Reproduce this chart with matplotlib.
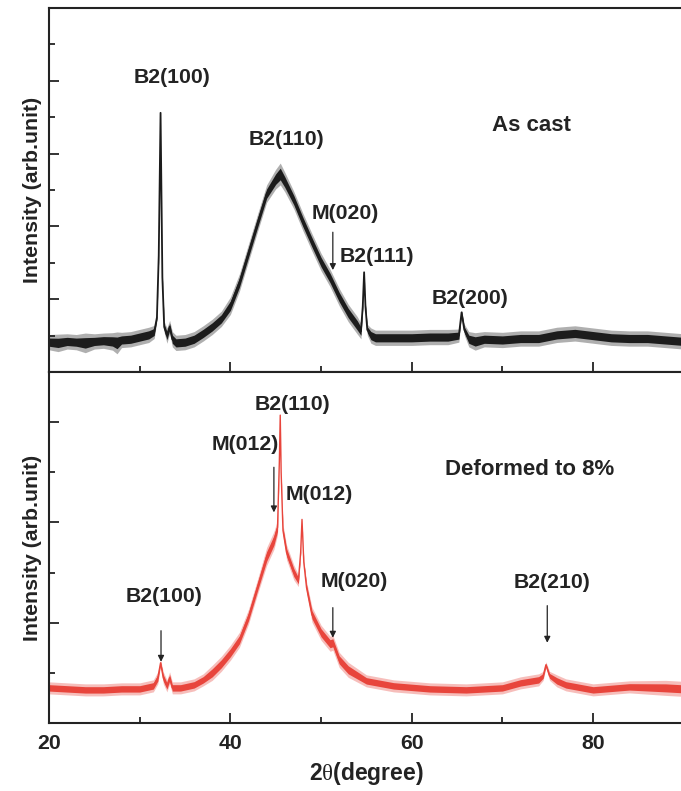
"""XRD patterns: as-cast vs deformed to 8%."""

import matplotlib

matplotlib.use("Agg")
import matplotlib.pyplot as plt
import numpy as np
from matplotlib.ticker import MultipleLocator

plt.rcParams["font.family"] = ["Liberation Sans", "DejaVu Sans"]
plt.rcParams["mathtext.fontset"] = "custom"
plt.rcParams["mathtext.rm"] = "Liberation Serif"

INK = "#232323"
RED = "#e8453c"

# As cast: 2theta, centre of the noisy trace, half-width of the noise band
cast_theta = [20.0, 21.0, 22.0, 23.0, 24.0, 25.0, 26.0, 27.0, 27.5, 28.0,
              29.0, 30.0, 31.0, 31.6, 31.9, 32.1, 32.3, 32.5, 32.7, 33.0,
              33.3, 33.6, 34.0, 35.0, 36.0, 37.0, 38.0, 39.0, 40.0, 41.0,
              42.0, 43.0, 44.0, 45.0, 45.5, 46.0, 47.0, 48.0, 49.0, 50.0,
              51.0, 52.0, 53.0, 54.0, 54.4, 54.6, 54.75, 54.9, 55.1, 55.5,
              56.0, 58.0, 60.0, 62.0, 64.0, 65.2, 65.5, 65.8, 66.3, 67.0,
              68.0, 70.0, 72.0, 74.0, 76.0, 78.0, 80.0, 82.0, 84.0, 86.0,
              88.0, 90.0]
cast_mid = [0.41, 0.40, 0.42, 0.41, 0.40, 0.42, 0.43, 0.42, 0.40, 0.44,
            0.45, 0.48, 0.51, 0.55, 0.75, 1.60, 3.56, 1.30, 0.62, 0.50,
            0.62, 0.45, 0.40, 0.41, 0.45, 0.53, 0.62, 0.73, 0.91, 1.23,
            1.64, 2.05, 2.45, 2.65, 2.72, 2.61, 2.36, 2.06, 1.78, 1.51,
            1.29, 1.03, 0.81, 0.64, 0.56, 0.90, 1.37, 0.90, 0.58, 0.50,
            0.47, 0.47, 0.47, 0.48, 0.48, 0.50, 0.82, 0.58, 0.45, 0.42,
            0.45, 0.44, 0.46, 0.46, 0.51, 0.53, 0.50, 0.47, 0.46, 0.46,
            0.44, 0.42]
cast_band = [0.07, 0.08, 0.07, 0.07, 0.09, 0.07, 0.07, 0.08, 0.10, 0.07,
             0.07, 0.07, 0.07, 0.06, 0.03, 0.02, 0.00, 0.02, 0.05, 0.07,
             0.06, 0.07, 0.07, 0.07, 0.07, 0.07, 0.07, 0.07, 0.08, 0.08,
             0.08, 0.08, 0.08, 0.09, 0.10, 0.09, 0.08, 0.08, 0.08, 0.08,
             0.08, 0.08, 0.08, 0.08, 0.07, 0.03, 0.00, 0.03, 0.05, 0.07,
             0.07, 0.07, 0.07, 0.07, 0.07, 0.06, 0.02, 0.05, 0.07, 0.08,
             0.07, 0.07, 0.07, 0.07, 0.07, 0.07, 0.07, 0.07, 0.07, 0.07,
             0.07, 0.07]

# Deformed to 8%
def_theta = [20.0, 22.0, 24.0, 26.0, 28.0, 30.0, 31.5, 32.0, 32.3, 32.6,
             33.0, 33.3, 33.6, 34.5, 36.0, 37.0, 38.0, 39.0, 40.0, 41.0,
             42.0, 43.0, 44.0, 44.8, 45.2, 45.4, 45.5, 45.6, 45.8, 46.2,
             47.0, 47.5, 47.75, 47.9, 48.1, 48.4, 49.0, 50.0, 51.0, 51.3,
             52.0, 53.0, 55.0, 58.0, 62.0, 66.0, 70.0, 72.0, 74.0, 74.5,
             74.8, 75.2, 76.0, 77.0, 80.0, 84.0, 88.0, 90.0]
def_mid = [0.35, 0.34, 0.33, 0.33, 0.34, 0.34, 0.37, 0.45, 0.60, 0.45,
           0.37, 0.45, 0.35, 0.35, 0.38, 0.43, 0.50, 0.59, 0.70, 0.83,
           1.06, 1.36, 1.66, 1.82, 1.95, 2.60, 3.07, 2.50, 1.92, 1.70,
           1.50, 1.42, 1.70, 2.03, 1.60, 1.35, 1.08, 0.90, 0.79, 0.80,
           0.63, 0.53, 0.42, 0.37, 0.34, 0.33, 0.35, 0.40, 0.43, 0.47,
           0.58, 0.47, 0.42, 0.38, 0.33, 0.36, 0.35, 0.34]
def_band = [0.04, 0.04, 0.04, 0.04, 0.04, 0.04, 0.04, 0.04, 0.02, 0.04,
            0.04, 0.04, 0.04, 0.04, 0.04, 0.04, 0.05, 0.05, 0.05, 0.05,
            0.05, 0.05, 0.06, 0.06, 0.05, 0.01, 0.00, 0.01, 0.04, 0.05,
            0.05, 0.04, 0.02, 0.00, 0.02, 0.04, 0.05, 0.05, 0.05, 0.05,
            0.05, 0.05, 0.04, 0.04, 0.04, 0.04, 0.04, 0.04, 0.04, 0.03,
            0.02, 0.03, 0.04, 0.04, 0.04, 0.04, 0.05, 0.05]

# peak labels: (text, x, y) and arrows: (x, tail, tip)
cast_labels = [("B2(100)", 33.6, 4.05), ("B2(110)", 46.2, 3.20),
               ("M(020)", 52.7, 2.18), ("B2(111)", 56.2, 1.58),
               ("B2(200)", 66.4, 1.01)]
cast_arrows = [(51.3, 1.92, 1.40)]
def_labels = [("B2(110)", 46.8, 3.18), ("M(012)", 41.6, 2.78),
              ("M(012)", 49.8, 2.28), ("M(020)", 53.7, 1.41),
              ("B2(100)", 32.7, 1.26), ("B2(210)", 75.5, 1.40)]
def_arrows = [(44.8, 2.55, 2.10), (32.35, 0.92, 0.61),
              (51.3, 1.15, 0.85), (74.95, 1.17, 0.80)]

PEAK_SIZE = 15.3
NAME_SIZE = 16


def style_axes(ax, ymax):
    ax.set_xlim(20, 90)
    ax.set_ylim(0, ymax)
    ax.xaxis.set_major_locator(MultipleLocator(20))
    ax.xaxis.set_minor_locator(MultipleLocator(10))
    ax.yaxis.set_major_locator(MultipleLocator(1))
    ax.yaxis.set_minor_locator(MultipleLocator(0.5))
    ax.tick_params(which="both", direction="in", top=False, right=False,
                   color=INK, width=1.3, labelleft=False)
    ax.tick_params(which="major", length=7)
    ax.tick_params(which="minor", length=4.5)
    for spine in ax.spines.values():
        spine.set_linewidth(1.5)
        spine.set_color(INK)
    ax.set_ylabel("Intensity (arb.unit)", fontsize=15.3, fontweight="bold",
                  color=INK, labelpad=5)


def draw_trace(ax, theta, mid, band, color, lw):
    theta = np.asarray(theta)
    mid = np.asarray(mid)
    band = np.asarray(band)
    # soft outer fringe + dense core, to mimic the counting noise
    ax.fill_between(theta, mid - 1.5 * band, mid + 1.5 * band, color=color,
                    lw=0, alpha=0.35)
    ax.fill_between(theta, mid - 0.8 * band, mid + 0.8 * band, color=color,
                    lw=0)
    ax.plot(theta, mid, color=color, lw=lw)


def annotate(ax, labels, arrows):
    for text, x, y in labels:
        ax.text(x, y, text, ha="center", va="center", fontsize=PEAK_SIZE,
                fontweight="bold", color=INK)
    for x, tail, tip in arrows:
        ax.annotate("", xy=(x, tip), xytext=(x, tail),
                    arrowprops=dict(arrowstyle="-|>", color=INK, lw=0.9,
                                    mutation_scale=9, shrinkA=0, shrinkB=0))


fig = plt.figure(figsize=(6.81, 7.91), dpi=100)
ax_top = fig.add_axes([0.072, 0.5297, 0.932, 0.4602])
ax_bot = fig.add_axes([0.072, 0.0860, 0.932, 0.4437], sharex=ax_top)

style_axes(ax_top, 5.0)
style_axes(ax_bot, 3.5)
ax_top.tick_params(labelbottom=False)
ax_bot.tick_params(labelsize=15.3, labelcolor=INK, pad=8)
for label in ax_bot.get_xticklabels():
    label.set_fontweight("bold")

draw_trace(ax_top, cast_theta, cast_mid, cast_band, "#1c1c1c", 1.3)
draw_trace(ax_bot, def_theta, def_mid, def_band, RED, 1.0)

annotate(ax_top, cast_labels, cast_arrows)
annotate(ax_bot, def_labels, def_arrows)
ax_top.text(73.2, 3.38, "As cast", ha="center", va="center", fontsize=NAME_SIZE,
            fontweight="bold", color=INK)
ax_bot.text(73.0, 2.53, "Deformed to 8%", ha="center", va="center",
            fontsize=NAME_SIZE, fontweight="bold", color=INK)

ax_bot.set_xlabel(r"2$\mathrm{\theta}$(degree)", fontsize=16.5,
                  fontweight="bold", color=INK, labelpad=5)

fig.savefig("out.png", dpi=100)
